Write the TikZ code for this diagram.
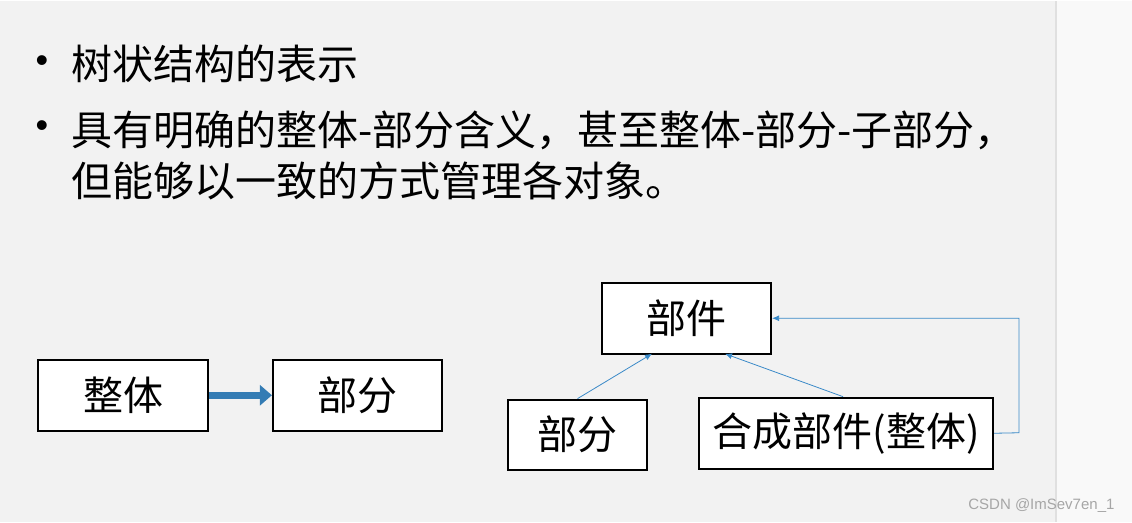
\documentclass[tikz,border=0pt]{standalone}
\usepackage{fontspec}
\newfontfamily\cjk{Noto Sans CJK SC}
\newfontfamily\latin{Liberation Sans}
\usetikzlibrary{positioning,arrows.meta}
\definecolor{slidebg}{HTML}{F2F2F2}
\definecolor{stripbg}{HTML}{F9F9F9}
\definecolor{linkblue}{HTML}{3A8AC8}
\tikzset{
	part/.style  = {draw, line width=2.2pt, fill=white, font=\cjk\fontsize{40}{40}\selectfont,
		inner sep=0pt, anchor=center},
	item/.style  = {anchor=west, font=\cjk\fontsize{41}{41}\selectfont, inner sep=0pt},
	dot/.style   = {anchor=center, font=\latin\fontsize{36}{36}\selectfont, inner sep=0pt},
	link/.style  = {draw=linkblue, line width=0.8pt, -{Latex[length=7pt,width=6pt]}}
}
\begin{document}
\begin{tikzpicture}[x=1pt,y=-1pt]
	% slide background
	\fill[slidebg] (0,0) rectangle (1055,521);
	\fill[stripbg] (1055,0) rectangle (1132,521);
	\draw[black!12, line width=1.5pt] (1056,0) -- (1056,521);
	\useasboundingbox (0,0) rectangle (1132,521);
	% bullet text
	\node[dot] (d1) at (42,63) {•};
	\node[dot] (d2) at (42,128) {•};
	\node[item] (b1) at (71,63) {树状结构的表示};
	\node[item] (b2) at (71,130) {具有明确的整体-部分含义，甚至整体-部分-子部分，};
	\node[item] (b3) at (71,180) {但能够以一致的方式管理各对象。};
	% left pair
	\node[part, minimum width=170pt, minimum height=71pt] (whole) at (123,394.5) {整体};
	\node[part, minimum width=169pt, minimum height=71pt] (part1) at (357.5,394.5) {部分};
	\draw[line width=7pt, draw=linkblue!90!black, -{Triangle[length=12pt,width=20pt]}]
		(whole.east) -- (part1.west);
	% tree
	\node[part, minimum width=169pt, minimum height=71pt] (comp) at (686.5,317.5) {部件};
	\node[part, minimum width=139pt, minimum height=70pt] (part2) at (577.5,434) {部分};
	\node[part, minimum width=294pt, minimum height=71pt] (composite) at (846,432.5) {合成部件(整体)};
	\coordinate (c1) at (652,353);
	\coordinate (c2) at (725,353);
	\coordinate (turn) at (1019,432);
	\draw[link] (part2.north) -- (c1);
	\draw[link] ([xshift=-3pt]composite.north) -- (c2);
	\draw[link] (composite.east) -- (turn) |- (comp.east);
	% watermark
	\node[anchor=east, text=black!35, font=\latin\fontsize{15}{15}\selectfont] (mark) at (1118,505) {CSDN @ImSev7en\_1};
\end{tikzpicture}
\end{document}
